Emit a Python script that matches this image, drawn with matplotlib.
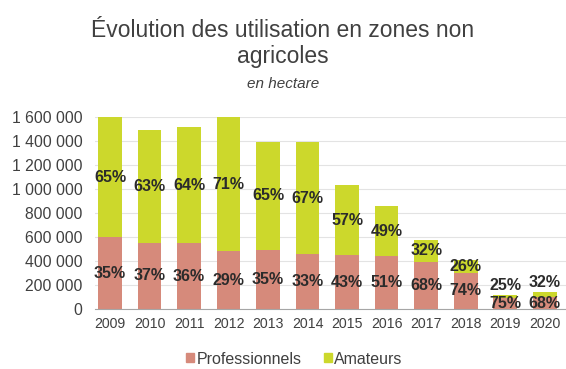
import numpy as np
import matplotlib
matplotlib.use('Agg')
import matplotlib.pyplot as plt
from matplotlib.ticker import FuncFormatter

plt.rcParams['font.family'] = ['Liberation Sans', 'DejaVu Sans']

# surfaces totales traitées (ha) et part de chaque catégorie par année
years = ['2009', '2010', '2011', '2012', '2013', '2014',
         '2015', '2016', '2017', '2018', '2019', '2020']
totals = [1700000, 1490000, 1515000, 1650000, 1395000, 1390000,
          1035000, 857000, 578000, 405000, 117000, 140000]
pct_pro = [35, 37, 36, 29, 35, 33, 43, 51, 68, 74, 75, 68]
pct_ama = [65, 63, 64, 71, 65, 67, 57, 49, 32, 26, 25, 32]

pro = np.array(totals) * np.array(pct_pro) / 100.
ama = np.array(totals) * np.array(pct_ama) / 100.

c_pro = '#d68a7b'
c_ama = '#ccd82c'
ymax = 1600000

fig = plt.figure(figsize=(5.66, 3.69), dpi=100)
ax = fig.add_axes([0.168, 0.163, 0.832, 0.52])

x = np.arange(len(years))
ax.bar(x, pro, width=0.6, color=c_pro, zorder=2)
ax.bar(x, ama, width=0.6, bottom=pro, color=c_ama, zorder=2)

# étiquettes de pourcentage : au centre du segment, au-dessus si trop petit
lbl = dict(fontsize=11.5, fontweight='bold', color='#2b2b2b', zorder=3, ha='center')
for i in range(len(years)):
    top = min(pro[i] + ama[i], ymax)
    ax.text(x[i], min(pro[i], ymax) / 2., '%d%%' % pct_pro[i], va='center', **lbl)
    if ama[i] < 60000:
        ax.annotate('%d%%' % pct_ama[i], (x[i], top), xytext=(0, 1.5),
                    textcoords='offset points', va='bottom', **lbl)
    else:
        ax.text(x[i], (pro[i] + top) / 2., '%d%%' % pct_ama[i], va='center', **lbl)

ax.set_ylim(0, ymax)
ax.set_xlim(-0.38, 11.54)
ax.set_yticks(np.arange(0, ymax + 1, 200000))
ax.yaxis.set_major_formatter(FuncFormatter(lambda v, p: '{:,.0f}'.format(v).replace(',', ' ')))
ax.set_xticks(x)
ax.set_xticklabels(years)
ax.tick_params(length=0, colors='#404040')
ax.tick_params(axis='x', pad=6, labelsize=10.2)
ax.tick_params(axis='y', pad=9, labelsize=11.3)
ax.grid(axis='y', color='#e3e3e3', linewidth=0.8, zorder=0)
for s in ['top', 'right', 'left']:
    ax.spines[s].set_visible(False)
ax.spines['bottom'].set_color('#a6a6a6')

fig.text(0.5, 0.882, 'Évolution des utilisation en zones non\nagricoles',
         ha='center', va='center', fontsize=16.5, color='#404040', linespacing=1.15)
fig.text(0.5, 0.772, 'en hectare', ha='center', va='center', fontsize=11,
         style='italic', color='#404040')

handles = [plt.Rectangle((0, 0), 1, 1, color=c_pro), plt.Rectangle((0, 0), 1, 1, color=c_ama)]
fig.legend(handles, ['Professionnels', 'Amateurs'], loc='center', bbox_to_anchor=(0.52, 0.027),
           ncol=2, frameon=False, fontsize=11.5, handlelength=0.5, handleheight=0.5,
           handletextpad=0.15, columnspacing=1.4, labelcolor='#404040')

fig.savefig('out.png', dpi=100)
